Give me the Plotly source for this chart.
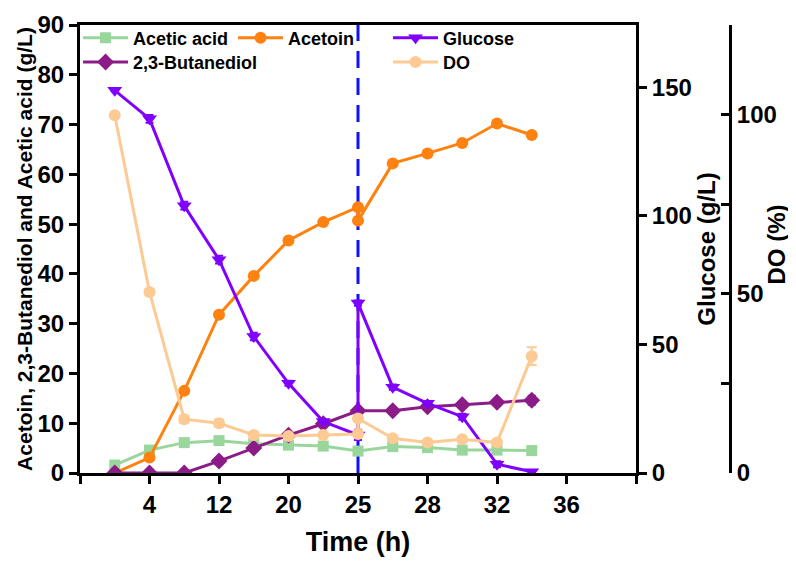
import plotly.graph_objects as go

# sampling slots on the time axis (one slot = half a labelled tick interval)
slots = [0.5, 1, 1.5, 2, 2.5, 3, 3.5, 4, 4.5, 5, 5.5, 6, 6.5]
# slots with the feeding point at 25 h counted twice (before / after feed)
slots_feed = [0.5, 1, 1.5, 2, 2.5, 3, 3.5, 4, 4, 4.5, 5, 5.5, 6, 6.5]

tick_slots = [0, 1, 2, 3, 4, 5, 6, 7, 8]
time_labels = ["", "4", "12", "20", "25", "28", "32", "36", ""]

acetic_acid = [1.6, 4.6, 6.1, 6.5, 5.9, 5.6, 5.4, 4.4, 5.3, 5.1, 4.6, 4.6, 4.5]
butanediol = [0, 0, 0, 2.4, 5.0, 7.6, 9.9, 12.5, 12.5, 13.3, 13.7, 14.2, 14.6]
butanediol_err = [0, 0, 0, 0.4, 0.4, 0.3, 0.3, 0.3, 0.4, 0.6, 0.4, 0.4, 0.9]
acetoin = [0, 3.1, 16.5, 31.8, 39.6, 46.7, 50.4, 53.4, 50.7, 62.2, 64.2, 66.3, 70.2, 67.9]
glucose = [148.9, 137.8, 104.0, 83.0, 53.1, 34.9, 20.0, 14.8, 66.1, 33.4, 27.1, 21.9, 3.4, 0.5]
glucose_err = [0.5, 1.5, 1.5, 1.5, 1.5, 1.0, 0.5, 2.0, 1.0, 1.0, 0.5, 1.2, 1.2, 0.3]
dissolved_o2 = [99.8, 50.5, 15.0, 13.9, 10.6, 10.3, 10.6, 10.9, 15.2, 9.7, 8.5, 9.4, 8.5, 32.6]
dissolved_o2_err = [0.3, 0.8, 1.0, 1.0, 0.8, 0.5, 0.5, 0.8, 0.8, 0.5, 0.5, 0.5, 0.5, 2.5]

FONT = "Liberation Sans, Arial, sans-serif"
LW = 3

fig = go.Figure()

# row 1 of the legend: Acetic acid, Acetoin, Glucose
fig.add_trace(go.Scatter(
    x=slots, y=acetic_acid, name="Acetic acid", mode="lines+markers",
    line=dict(color="#99d69b", width=LW),
    marker=dict(symbol="square", size=11, color="#99d69b"),
    legend="legend"))
fig.add_trace(go.Scatter(
    x=slots_feed, y=acetoin, name="Acetoin", mode="lines+markers",
    line=dict(color="#ff8110", width=LW),
    marker=dict(symbol="circle", size=12, color="#ff8110"),
    legend="legend"))
fig.add_trace(go.Scatter(
    x=slots_feed, y=glucose, name="Glucose", mode="lines+markers", yaxis="y2",
    line=dict(color="#7f00ff", width=LW),
    marker=dict(symbol="triangle-down", size=13, color="#7f00ff"),
    error_y=dict(array=glucose_err, color="#7f00ff", thickness=2, width=4),
    legend="legend"))
# row 2: 2,3-Butanediol (column 1), DO (column 3)
fig.add_trace(go.Scatter(
    x=slots, y=butanediol, name="2,3-Butanediol", mode="lines+markers",
    line=dict(color="#8b1c87", width=LW),
    marker=dict(symbol="diamond", size=13, color="#8b1c87"),
    error_y=dict(array=butanediol_err, color="#8b1c87", thickness=2, width=4),
    legend="legend2"))
fig.add_trace(go.Scatter(
    x=slots_feed, y=dissolved_o2, name="DO", mode="lines+markers", yaxis="y3",
    line=dict(color="#fdca93", width=LW),
    marker=dict(symbol="circle", size=12, color="#fdca93"),
    error_y=dict(array=dissolved_o2_err, color="#fdca93", thickness=2, width=5),
    legend="legend3"))

# feeding time marker
fig.add_shape(type="line", xref="x", yref="paper", x0=4, x1=4, y0=0, y1=1,
              line=dict(color="#1010ff", width=3, dash="17px,10px"), layer="below")

tickfont = dict(family=FONT, size=24, color="black", weight="bold")
legfont = dict(family=FONT, size=18, color="black", weight="bold")
axis_common = dict(showline=True, linecolor="black", linewidth=3, showgrid=False,
                   zeroline=False, ticks="outside", ticklen=8, tickwidth=3,
                   tickcolor="black", tickfont=tickfont, automargin=False)

x_end = 556 / 650
leg_x = -0.003

fig.update_layout(
    width=796, height=564,
    template="none",
    paper_bgcolor="white", plot_bgcolor="white",
    margin=dict(l=72, r=74, t=17, b=99),
    font=dict(family=FONT, color="black", weight="bold"),
    xaxis=dict(**axis_common, domain=[0, x_end], range=[0, 8], mirror=True,
               tickvals=tick_slots, ticktext=time_labels,
               title=dict(text="Time (h)", standoff=16,
                          font=dict(family=FONT, size=27, weight="bold"))),
    yaxis=dict(**axis_common, range=[0, 90], dtick=10,
               title=dict(text="Acetoin, 2,3-Butanediol and Acetic acid (g/L)", standoff=0,
                          font=dict(family=FONT, size=21, weight="bold"))),
    yaxis2=dict(**axis_common, overlaying="y", side="right", anchor="x",
                range=[0, 174.3], tickvals=[0, 50, 100, 150],
                title=dict(text="Glucose (g/L)", standoff=8,
                           font=dict(family=FONT, size=24, weight="bold"))),
    yaxis3=dict(**{**axis_common, "ticks": "inside"}, overlaying="y", side="right",
                anchor="free", position=1, range=[0, 125],
                tickvals=[0, 25, 50, 75, 100], ticktext=["0", "", "50", "", "100"]),
    legend=dict(orientation="h", x=leg_x, y=1.012, xanchor="left", yanchor="top",
                font=legfont, bgcolor="rgba(0,0,0,0)", itemwidth=45,
                entrywidth=95, entrywidthmode="pixels"),
    legend2=dict(orientation="h", x=leg_x, y=0.958, xanchor="left", yanchor="top",
                 font=legfont, bgcolor="rgba(0,0,0,0)", itemwidth=45),
    legend3=dict(orientation="h", x=leg_x + 310 / 650, y=0.958, xanchor="left",
                 yanchor="top", font=legfont, bgcolor="rgba(0,0,0,0)", itemwidth=45),
    annotations=[dict(text="DO (%)", textangle=-90, xref="paper", yref="paper",
                      x=(777 - 80) / 650, y=0.51, xanchor="center", yanchor="middle",
                      showarrow=False,
                      font=dict(family=FONT, size=24, color="black", weight="bold"))],
)

fig.write_html("out.html")
